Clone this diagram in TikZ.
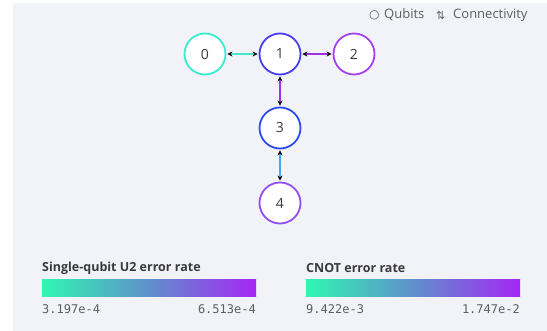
\documentclass[tikz,border=0pt]{standalone}
\usepackage{fontspec}
\setmainfont{Open Sans}
\setmonofont{DejaVu Sans Mono}
\newfontfamily\symfont{DejaVu Sans}
\usetikzlibrary{arrows.meta}
\definecolor{panel}{HTML}{F2F3F8}
\definecolor{qcyan}{HTML}{3BEBD0}
\definecolor{qblue}{HTML}{4A3FF0}
\definecolor{qblueb}{HTML}{2C4BF2}
\definecolor{qpurple}{HTML}{A442F2}
\definecolor{qviolet}{HTML}{9250F0}
\definecolor{ecyan}{HTML}{45E6D2}
\definecolor{epurple}{HTML}{A22FE6}
\definecolor{eblue}{HTML}{3DA8F0}
\definecolor{gmint}{HTML}{2EF7B2}
\definecolor{gmid}{HTML}{6090CC}
\definecolor{gviolet}{HTML}{A526F5}
\definecolor{txt}{HTML}{3A3A3A}
\definecolor{ltxt}{HTML}{5E5E5E}
\begin{document}
\begin{tikzpicture}[x=1pt,y=-1pt,
  qubit/.style={circle,draw=#1,line width=1.8pt,fill=white,minimum size=41pt,inner sep=0pt,font=\fontsize{14}{15}\selectfont,text=txt},
  link/.style={line width=2.6pt,draw=#1,{Stealth[black,length=5pt,width=5pt]}-{Stealth[black,length=5pt,width=5pt]},shorten <=1pt,shorten >=1pt},
  ttl/.style={font=\fontsize{12.5}{14}\selectfont\bfseries,text=txt,anchor=west,inner sep=0pt},
  val/.style={font=\fontsize{12}{14}\selectfont\ttfamily,text=ltxt,inner sep=0pt},
  top/.style={inner sep=0pt,text=ltxt,font=\fontsize{13}{14}\selectfont,anchor=west}]
\useasboundingbox (0,0) rectangle (547,331);
\fill[white] (0,0) rectangle (547,331);
\fill[panel] (13,3) rectangle (547,331);
% legend top right
\node[top] (lc) at (369,15) {{\symfont\fontsize{12}{14}\selectfont ○}};
\node[top] (lq) at (384,15) {Qubits};
\node[top] (la) at (436,15) {{\symfont\fontsize{11}{14}\selectfont⇅}};
\node[top] (lk) at (453,15) {Connectivity};
% qubits
\node[qubit=qcyan] (q0) at (205,54) {0};
\node[qubit=qblue] (q1) at (280,54) {1};
\node[qubit=qpurple] (q2) at (354,54) {2};
\node[qubit=qblueb] (q3) at (280,128) {3};
\node[qubit=qviolet] (q4) at (280,203) {4};
% links
\draw[link=ecyan] (q0) -- (q1);
\draw[link=epurple] (q1) -- (q2);
\draw[link=epurple] (q1) -- (q3);
\draw[link=eblue] (q3) -- (q4);
% color bars
\node[ttl] (t1) at (42,268) {Single-qubit U2 error rate};
\shade[left color=gmint,right color=gviolet,middle color=gmid] (42,280) rectangle (256,297);
\node[val,anchor=west] (l1) at (42,309) {3.197e-4};
\node[val,anchor=east] (r1) at (256,309) {6.513e-4};
\node[ttl] (t2) at (306,268) {CNOT error rate};
\shade[left color=gmint,right color=gviolet,middle color=gmid] (306,280) rectangle (520,297);
\node[val,anchor=west] (l2) at (306,309) {9.422e-3};
\node[val,anchor=east] (r2) at (520,309) {1.747e-2};
\end{tikzpicture}
\end{document}
